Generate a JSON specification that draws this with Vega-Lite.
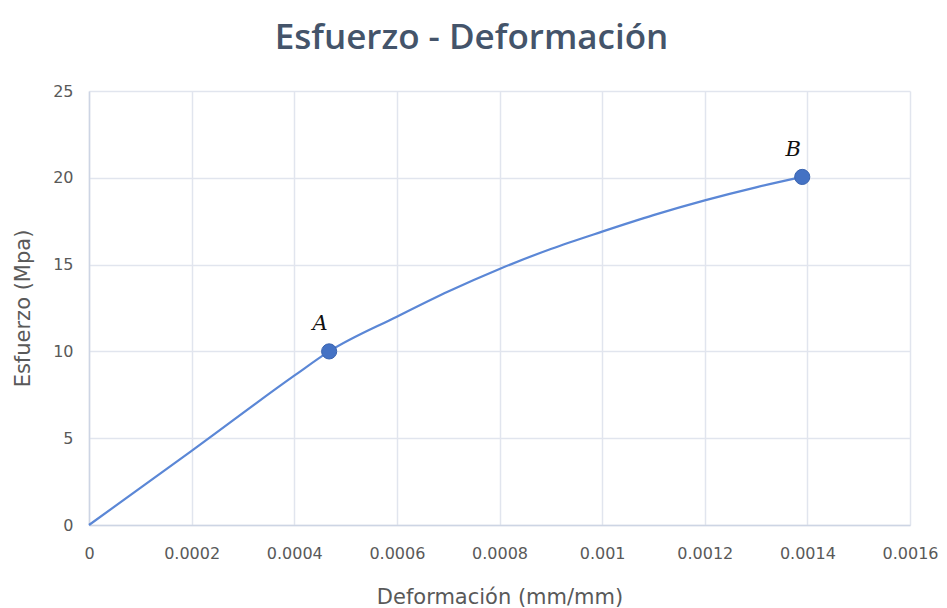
{
  "$schema": "https://vega.github.io/schema/vega-lite/v6.json",
  "autosize": "none",
  "width": 821,
  "height": 434,
  "padding": {"left": 89, "top": 91, "right": 37, "bottom": 83},
  "background": "white",
  "title": {
    "text": "Esfuerzo - Deformación",
    "font": "Open Sans",
    "fontSize": 35,
    "fontWeight": 600,
    "color": "#44546A",
    "anchor": "middle",
    "dx": -28,
    "offset": 27
  },
  "config": {
    "view": {"stroke": null},
    "axis": {
      "labelFont": "DejaVu Sans",
      "labelFontSize": 16,
      "labelColor": "#595959",
      "titleFont": "DejaVu Sans",
      "titleFontSize": 21,
      "titleFontWeight": "normal",
      "titleColor": "#595959",
      "gridColor": "#E1E5EE",
      "gridWidth": 1.5,
      "domainColor": "#CDD5E4",
      "domainWidth": 1.5,
      "ticks": false,
      "labelFlush": false,
      "labelOverlap": false
    }
  },
  "datasets": {
    "curve": [
      {"def": 0, "esf": 0},
      {"def": 0.0002, "esf": 4.27},
      {"def": 0.0004, "esf": 8.6},
      {"def": 0.000468, "esf": 10.0},
      {"def": 0.0006, "esf": 12.0},
      {"def": 0.0007, "esf": 13.45},
      {"def": 0.0008, "esf": 14.75},
      {"def": 0.0009, "esf": 15.9},
      {"def": 0.001, "esf": 16.9},
      {"def": 0.0011, "esf": 17.85},
      {"def": 0.0012, "esf": 18.7},
      {"def": 0.0013, "esf": 19.45},
      {"def": 0.00139, "esf": 20.05}
    ],
    "pts": [
      {"def": 0.000468, "esf": 10.0, "label": "A"},
      {"def": 0.00139, "esf": 20.05, "label": "B"}
    ]
  },
  "layer": [
    {
      "data": {"name": "curve"},
      "mark": {"type": "line", "color": "#5B87D6", "strokeWidth": 2.2, "interpolate": "monotone"},
      "encoding": {
        "x": {
          "field": "def", "type": "quantitative",
          "scale": {"domain": [0, 0.0016], "nice": false},
          "axis": {"title": "Deformación (mm/mm)", "values": [0, 0.0002, 0.0004, 0.0006, 0.0008, 0.001, 0.0012, 0.0014, 0.0016], "format": "~g", "labelPadding": 20, "titlePadding": 25}
        },
        "y": {
          "field": "esf", "type": "quantitative",
          "scale": {"domain": [0, 25], "nice": false},
          "axis": {"title": "Esfuerzo (Mpa)", "values": [0, 5, 10, 15, 20, 25], "labelPadding": 16, "titlePadding": 19}
        }
      }
    },
    {
      "data": {"name": "pts"},
      "mark": {"type": "point", "filled": true, "color": "#4472C4", "size": 230, "opacity": 1, "stroke": "#3A64B0", "strokeWidth": 1},
      "encoding": {
        "x": {"field": "def", "type": "quantitative"},
        "y": {"field": "esf", "type": "quantitative"}
      }
    },
    {
      "data": {"name": "pts"},
      "mark": {"type": "text", "font": "DejaVu Serif", "fontStyle": "italic", "fontSize": 21, "color": "#111111", "dx": -9, "dy": -27},
      "encoding": {
        "x": {"field": "def", "type": "quantitative"},
        "y": {"field": "esf", "type": "quantitative"},
        "text": {"field": "label"}
      }
    }
  ]
}
